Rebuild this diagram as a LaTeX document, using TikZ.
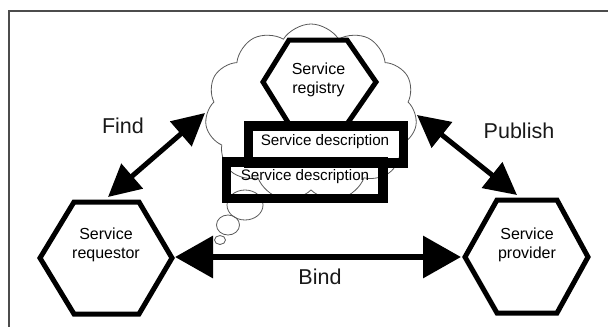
\documentclass[tikz,border=0pt]{standalone}
\usepackage{fontspec}
\setmainfont{Liberation Sans}
\usetikzlibrary{arrows.meta,shapes.symbols}
\begin{document}
\begin{tikzpicture}[x=1pt,y=-1pt,
  hexa/.style={draw=black,line width=5pt,line join=miter},
  descbox/.style={draw=black,line width=9.5pt,line join=miter},
  bubble/.style={draw=black!65,line width=0.8pt},
  lbl/.style={font=\fontsize{21.5}{24}\selectfont,text=black!90,inner sep=0pt},
  hextext/.style={font=\fontsize{16}{19}\selectfont,align=center,text=black,inner sep=0pt},
  dtext/.style={font=\fontsize{15.2}{18}\selectfont,text=black,inner sep=0pt},
  dblarrow/.style={line width=5pt,{Triangle[length=32pt,width=32pt]}-{Triangle[length=32pt,width=32pt]}},
  bindarrow/.style={line width=6.5pt,{Triangle[length=38pt,width=41pt]}-{Triangle[length=38pt,width=41pt]}},
]
\useasboundingbox (0,0) rectangle (608,327);
% frame
\draw[black!70,line width=2pt] (608,11) -- (9,11) -- (9,327);
% cloud
\node[cloud, cloud puffs=11, cloud puff arc=115, aspect=1.2, draw=black!65, line width=0.8pt,
      minimum width=212pt, minimum height=178pt] (cloud) at (311,113) {};
% thought bubbles
\draw[bubble] (245,205) ellipse [x radius=18pt, y radius=15pt];
\draw[bubble] (228,225) ellipse [x radius=11.5pt, y radius=10pt];
\draw[bubble] (220,240) ellipse [x radius=5.5pt, y radius=4.5pt];
% registry
\draw[hexa,fill=white] (263,82) -- (289,40) -- (347,40) -- (376,82) -- (347,124) -- (289,124) -- cycle;
\node[hextext] (regtext) at (318.5,80) {Service\\registry};
% description boxes
\draw[descbox] (248.5,126) rectangle (403.5,163);
\node[dtext] (desc1) at (325,142) {Service description};
\draw[descbox] (226.5,162) rectangle (383,198.5);
\node[dtext] (desc2) at (305,177) {Service description};
% requestor
\draw[hexa] (40,258) -- (74,202) -- (139,202) -- (172,258) -- (139,314) -- (74,314) -- cycle;
\node[hextext] (reqtext) at (106,245) {Service\\requestor};
% provider
\draw[hexa] (465,257) -- (497,200) -- (557,200) -- (588,257) -- (557,313) -- (497,313) -- cycle;
\node[hextext] (provtext) at (527,245) {Service\\provider};
% anchor coordinates
\coordinate (reqTop) at (108,197);
\coordinate (reqR) at (175,257);
\coordinate (provL) at (461,257);
\coordinate (provTop) at (517,195);
\coordinate (cloudL) at (205,113);
\coordinate (cloudR) at (417,115);
% arrows
\draw[dblarrow] (reqTop) -- (cloudL);
\draw[dblarrow] (cloudR) -- (provTop);
\draw[bindarrow] (reqR) -- (provL);
% labels
\node[lbl] (find) at (123,126) {Find};
\node[lbl] (publish) at (519,131) {Publish};
\node[lbl] (bind) at (320,277) {Bind};
\end{tikzpicture}
\end{document}
